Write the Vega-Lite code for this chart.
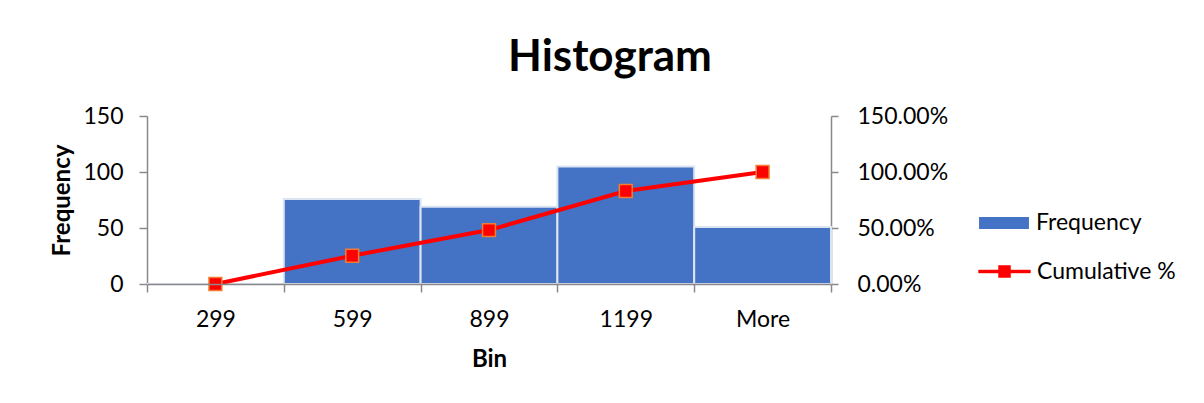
{
  "$schema": "https://vega.github.io/schema/vega-lite/v6.json",
  "width": 684,
  "height": 168,
  "autosize": {"type": "none"},
  "padding": {"left": 147, "top": 116, "right": 373, "bottom": 119},
  "background": "white",
  "config": {
    "font": "Lato",
    "view": {"stroke": null},
    "axis": {"labelFont": "Lato", "titleFont": "Lato", "labelColor": "#000000", "titleColor": "#000000", "domainColor": "#898989", "tickColor": "#898989", "grid": false},
    "legend": {"labelFont": "Lato", "labelColor": "#000000", "labelFontSize": 23}
  },
  "title": {
    "text": "Histogram",
    "fontSize": 44,
    "fontWeight": "bold",
    "font": "Lato",
    "color": "#000000",
    "anchor": "middle",
    "dx": 121,
    "offset": 25
  },
  "data": {
    "values": [
      {"bin": "299", "frequency": 0, "cumulative": 0.0},
      {"bin": "599", "frequency": 76, "cumulative": 0.2525},
      {"bin": "899", "frequency": 69, "cumulative": 0.4817},
      {"bin": "1199", "frequency": 105, "cumulative": 0.8306},
      {"bin": "More", "frequency": 51, "cumulative": 1.0}
    ]
  },
  "encoding": {
    "x": {
      "field": "bin",
      "type": "nominal",
      "sort": null,
      "scale": {"domain": ["299", "599", "899", "1199", "More"], "paddingInner": 0, "paddingOuter": 0},
      "axis": {
        "title": "Bin",
        "titleFontSize": 24,
        "titleFontWeight": "bold",
        "titleY": 75,
        "titleBaseline": "middle",
        "labelFontSize": 23,
        "labelAngle": 0,
        "labelPadding": 16,
        "tickSize": 8,
        "tickBand": "extent",
        "domainWidth": 1.5,
        "tickWidth": 1.5,
        "zindex": 1
      }
    }
  },
  "layer": [
    {
      "mark": {"type": "bar", "stroke": "#dce4f2", "strokeWidth": 2},
      "encoding": {
        "y": {
          "field": "frequency",
          "type": "quantitative",
          "scale": {"domain": [0, 150]},
          "axis": {
            "title": "Frequency",
            "titleFontSize": 24,
            "titleFontWeight": "bold",
            "titleX": -85,
            "titleY": 84,
            "titleBaseline": "middle",
            "titleAngle": -90,
            "values": [0, 50, 100, 150],
            "labelFontSize": 23,
            "labelPadding": 16,
            "tickSize": 8,
            "domainWidth": 1.5,
            "tickWidth": 1.5
          }
        },
        "fill": {
          "datum": "Frequency",
          "type": "nominal",
          "scale": {"domain": ["Frequency"], "range": ["#4472c4"]},
          "legend": {
            "title": null,
            "orient": "none",
            "legendX": 833,
            "legendY": 83,
            "symbolType": "M-1.04,-0.25H1.04V0.25H-1.04Z",
            "symbolSize": 2304,
            "symbolStrokeWidth": 0,
            "labelOffset": 8
          }
        }
      }
    },
    {
      "layer": [
        {
          "mark": {"type": "line", "strokeWidth": 4},
          "encoding": {
            "stroke": {
              "datum": "Cumulative %",
              "type": "nominal",
              "scale": {"domain": ["Cumulative %"], "range": ["#ff0000"]},
              "legend": {
                "title": null,
                "orient": "none",
                "legendX": 833,
                "legendY": 131,
                "symbolType": "M-1.08,-0.06H1.08V0.06H-1.08Z M-0.25,-0.25H0.25V0.25H-0.25Z",
                "symbolSize": 2304,
                "symbolFillColor": "#ff0000",
                "symbolStrokeWidth": 0.5,
                "labelOffset": 8
              }
            }
          }
        },
        {
          "mark": {"type": "point", "shape": "square", "size": 165, "filled": true, "fill": "#ff0000", "stroke": "#f07d31", "strokeWidth": 1.5, "opacity": 1}
        }
      ],
      "encoding": {
        "y": {
          "field": "cumulative",
          "type": "quantitative",
          "scale": {"domain": [0, 1.5]},
          "axis": {
            "orient": "right",
            "title": null,
            "values": [0, 0.5, 1, 1.5],
            "format": ".2%",
            "labelFontSize": 23,
            "labelPadding": 19,
            "tickSize": 7,
            "domainWidth": 1.5,
            "tickWidth": 1.5
          }
        }
      }
    }
  ],
  "resolve": {"scale": {"y": "independent"}}
}
